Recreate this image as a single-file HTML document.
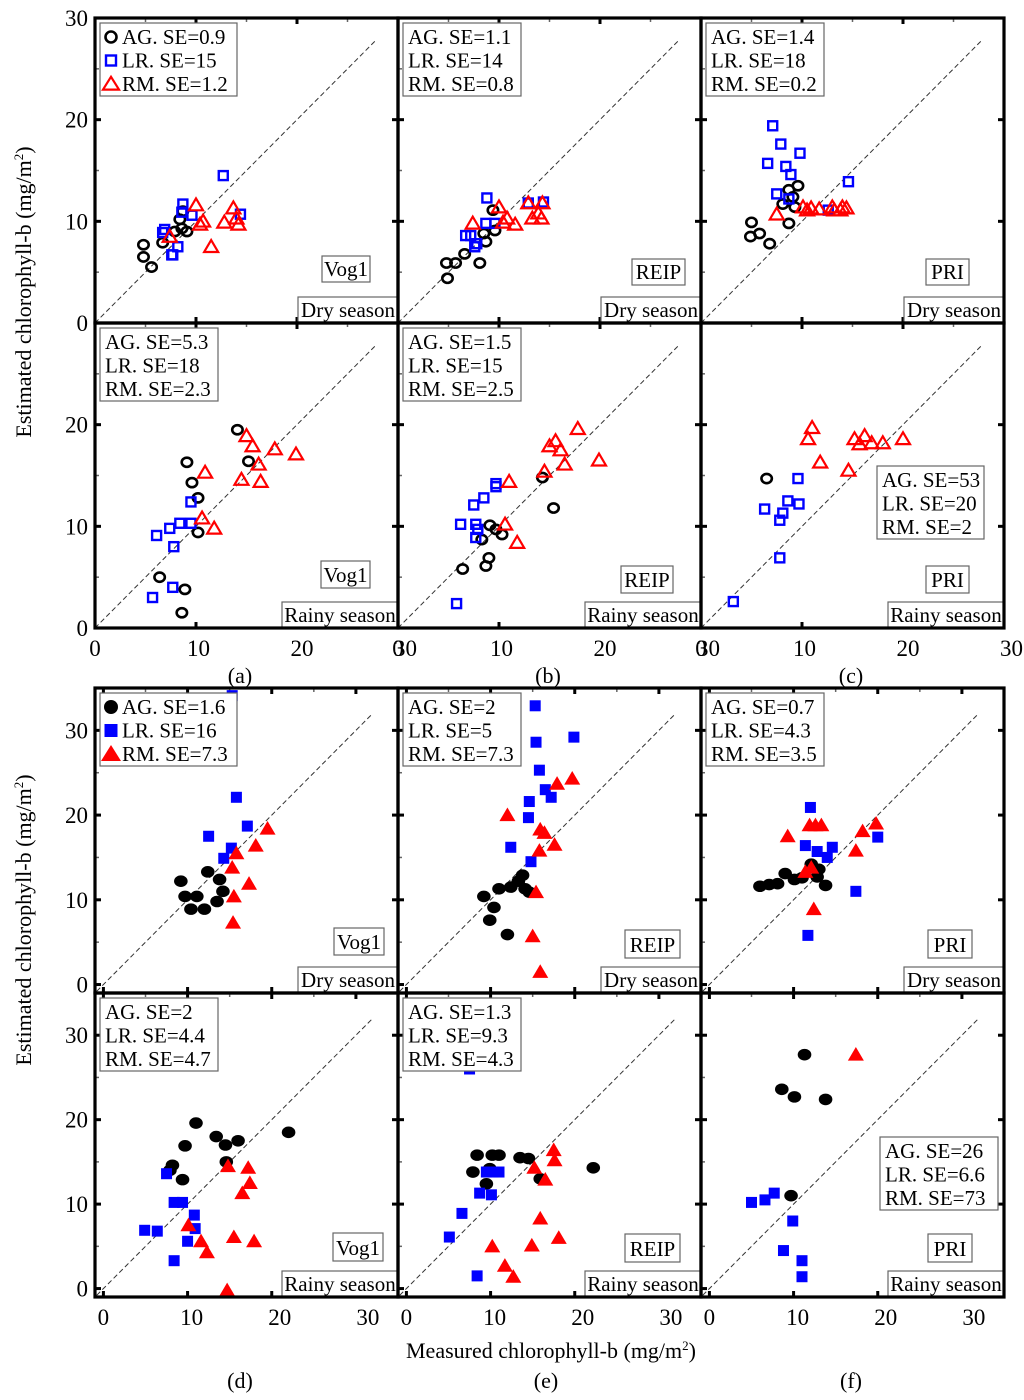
<!DOCTYPE html>
<html><head><meta charset="utf-8"><style>
html,body{margin:0;padding:0;background:#fff;}
svg{display:block;font-family:"Liberation Serif",serif;}
</style></head><body>
<svg id="chart" width="1024" height="1400" viewBox="0 0 1024 1400" xmlns="http://www.w3.org/2000/svg"></svg>
<script>
// ---- data (measured, estimated) ----
const aDryAG=[[4.8,7.7],[4.8,6.5],[5.6,5.5],[6.7,7.9],[7.9,9.0],[8.4,10.2],[8.7,11.0],[8.6,9.3],[9.1,9.0]];
const aDryLR=[[6.7,8.9],[6.9,9.2],[7.6,6.7],[7.7,6.7],[8.2,7.5],[8.7,11.7],[8.6,10.9],[9.6,10.6],[12.7,14.5],[14.4,10.7]];
const aDryRM=[[7.4,8.5],[10.0,11.6],[10.4,9.7],[10.7,10.0],[11.5,7.5],[12.8,9.9],[13.7,11.3],[14.0,10.3],[14.2,9.7]];
const bDryAG=[[4.9,4.4],[4.8,5.9],[5.7,5.9],[6.6,6.8],[8.1,5.9],[8.7,8.0],[8.5,8.8],[9.6,9.1],[9.4,11.1]];
const bDryLR=[[6.7,8.6],[7.2,8.6],[7.6,7.5],[8.7,9.8],[9.6,9.8],[8.8,12.3],[12.9,11.8],[14.4,11.9],[7.8,7.8]];
const bDryRM=[[7.4,9.8],[10.0,11.4],[10.8,10.3],[11.6,9.7],[10.4,9.9],[12.9,11.8],[14.3,11.8],[13.9,10.8],[13.3,10.3],[14.2,10.3]];
const cDryAG=[[5.0,9.9],[4.9,8.5],[5.8,8.8],[6.8,7.8],[8.7,9.8],[8.1,11.7],[9.3,11.4],[8.7,13.1],[9.6,13.5],[9.1,12.4]];
const cDryLR=[[7.1,19.4],[7.9,17.6],[9.8,16.7],[6.6,15.7],[8.4,15.4],[8.9,14.6],[7.5,12.7],[8.7,12.2],[14.6,13.9],[12.6,11.1]];
const cDryRM=[[7.5,10.7],[10.1,11.4],[10.9,11.3],[11.7,11.2],[10.5,11.1],[13.0,11.4],[14.0,11.4],[14.4,11.3],[13.2,11.1],[13.8,11.1]];
const aRainAG=[[14.1,19.5],[15.2,16.4],[9.1,16.3],[9.6,14.3],[10.2,12.8],[10.2,9.4],[6.4,5.0],[8.9,3.8],[8.6,1.5]];
const aRainLR=[[9.5,12.4],[8.4,10.3],[9.5,10.3],[7.4,9.8],[6.1,9.1],[7.8,8.0],[7.7,4.0],[5.7,3.0]];
const aRainRM=[[15.0,18.9],[15.6,17.9],[17.8,17.6],[19.9,17.1],[16.2,16.1],[10.9,15.3],[14.5,14.6],[16.4,14.4],[10.6,10.8],[11.8,9.8]];
const bRainAG=[[14.3,14.8],[15.4,11.8],[9.1,10.1],[9.7,9.7],[10.3,9.2],[8.3,8.7],[9.0,6.9],[8.7,6.1],[6.4,5.8]];
const bRainLR=[[9.7,14.2],[9.7,13.9],[8.5,12.8],[7.5,12.1],[6.2,10.2],[7.7,10.2],[7.9,9.7],[7.7,8.9],[5.8,2.4]];
const bRainRM=[[17.8,19.6],[15.6,18.4],[15.0,17.9],[16.1,17.5],[19.9,16.5],[16.5,16.1],[14.5,15.4],[11.0,14.4],[10.6,10.2],[11.8,8.4]];
const cRainAG=[[6.5,14.7]];
const cRainLR=[[9.6,14.7],[8.6,12.5],[9.7,12.2],[8.1,11.3],[7.8,10.6],[6.3,11.7],[7.8,6.9],[3.2,2.6]];
const cRainRM=[[11.0,19.7],[10.6,18.6],[11.8,16.3],[14.6,15.5],[15.2,18.6],[16.2,18.9],[15.7,18.1],[16.9,18.2],[18.0,18.2],[20.0,18.6]];
const dDryAG=[[9.2,12.2],[9.7,10.4],[11.1,10.4],[10.4,8.9],[12.0,8.9],[12.4,13.3],[13.8,12.4],[14.2,11.0],[13.5,9.8]];
const dDryLR=[[15.3,34.1],[15.8,22.1],[17.1,18.7],[12.5,17.5],[15.2,16.1],[14.3,14.9]];
const dDryRM=[[19.5,18.4],[18.1,16.4],[15.8,15.5],[15.3,13.8],[17.3,11.9],[15.5,10.4],[15.4,7.3]];
const eDryAG=[[9.2,10.4],[10.4,9.1],[9.9,7.6],[12.0,5.9],[11.0,11.3],[12.4,11.5],[13.3,12.2],[13.8,12.9],[14.1,11.3],[14.6,10.9]];
const eDryLR=[[15.3,32.9],[15.4,28.6],[19.9,29.2],[15.8,25.3],[14.6,21.6],[14.5,19.7],[16.5,23.0],[17.2,22.1],[12.4,16.2],[14.8,14.5]];
const eDryRM=[[12.0,20.0],[17.9,23.7],[19.7,24.3],[15.9,18.3],[16.4,17.9],[15.8,15.8],[17.6,16.5],[15.4,10.9],[15.0,5.7],[15.9,1.5]];
const fDryAG=[[6.0,11.6],[7.1,11.8],[8.1,11.9],[9.0,13.1],[10.1,12.4],[11.0,12.6],[12.8,12.7],[13.8,11.7],[13.0,13.6],[12.1,14.2]];
const fDryLR=[[12.0,20.9],[11.4,16.4],[12.8,15.7],[14.0,15.0],[14.6,16.2],[17.4,11.0],[20.0,17.4],[11.7,5.8]];
const fDryRM=[[9.3,17.5],[11.9,18.8],[12.6,18.8],[13.3,18.8],[17.4,15.8],[18.2,18.1],[19.8,19.0],[12.4,8.9],[11.4,13.3],[12.1,13.8]];
const dRainAG=[[11.0,19.6],[13.4,18.0],[14.5,17.0],[16.0,17.5],[14.6,15.0],[9.7,16.9],[8.2,14.6],[7.9,14.0],[9.4,12.9],[22.0,18.5]];
const dRainLR=[[7.5,13.6],[8.4,10.2],[9.4,10.2],[10.8,8.7],[10.9,7.1],[4.9,6.9],[6.4,6.8],[10.0,5.6],[8.4,3.3]];
const dRainRM=[[10.1,7.5],[11.6,5.6],[12.3,4.3],[14.8,14.5],[17.2,14.3],[17.4,12.5],[16.5,11.3],[15.5,6.1],[17.9,5.6],[14.7,-0.2]];
const eRainAG=[[8.4,15.8],[10.2,15.8],[11.0,15.8],[13.5,15.5],[14.5,15.4],[7.9,13.8],[9.5,12.4],[9.9,14.2],[15.9,13.0],[22.2,14.3]];
const eRainLR=[[7.5,26.0],[9.5,13.8],[10.3,13.8],[11.0,13.8],[8.7,11.3],[10.1,11.1],[6.6,8.9],[5.1,6.1],[8.4,1.5]];
const eRainRM=[[17.5,16.4],[17.6,15.2],[15.2,14.3],[16.5,12.9],[15.9,8.3],[18.1,6.0],[14.9,5.1],[10.2,5.0],[11.7,2.7],[12.7,1.4]];
const fRainAG=[[11.3,27.7],[8.6,23.6],[10.1,22.7],[13.8,22.4],[9.7,11.0]];
const fRainLR=[[5.0,10.2],[6.6,10.5],[7.7,11.3],[9.9,8.0],[8.8,4.5],[11.0,3.3],[11.0,1.4]];
const fRainRM=[[17.4,27.7]];
const topTicks=[0,10,20,30];
const topTickLabels=["0","10","20","30"];
const botTicks=[0,10,20,30];
const botTickLabels=["0","10","20","30"];
const seLabels={
 aDry:["AG. SE=0.9","LR. SE=15","RM. SE=1.2"], bDry:["AG. SE=1.1","LR. SE=14","RM. SE=0.8"], cDry:["AG. SE=1.4","LR. SE=18","RM. SE=0.2"],
 aRain:["AG. SE=5.3","LR. SE=18","RM. SE=2.3"], bRain:["AG. SE=1.5","LR. SE=15","RM. SE=2.5"], cRain:["AG. SE=53","LR. SE=20","RM. SE=2"],
 dDry:["AG. SE=1.6","LR. SE=16","RM. SE=7.3"], eDry:["AG. SE=2","LR. SE=5","RM. SE=7.3"], fDry:["AG. SE=0.7","LR. SE=4.3","RM. SE=3.5"],
 dRain:["AG. SE=2","LR. SE=4.4","RM. SE=4.7"], eRain:["AG. SE=1.3","LR. SE=9.3","RM. SE=4.3"], fRain:["AG. SE=26","LR. SE=6.6","RM. SE=73"]
};

const NS="http://www.w3.org/2000/svg";
const svg=document.getElementById('chart');
function mk(tag,attrs,parent,text){const e=document.createElementNS(NS,tag);for(const k in attrs)e.setAttribute(k,attrs[k]);if(text!==undefined)e.textContent=text;(parent||svg).appendChild(e);return e;}

const panels=[
 {id:'aDry',x:95,y:18,h:305,block:'top',ag:aDryAG,lr:aDryLR,rm:aDryRM,method:'Vog1',season:'Dry season',mbox:[322,256,48,26],leg:'tl',legMarkers:true},
 {id:'bDry',x:398,y:18,h:305,block:'top',ag:bDryAG,lr:bDryLR,rm:bDryRM,method:'REIP',season:'Dry season',mbox:[632,259,53,26],leg:'tl'},
 {id:'cDry',x:701,y:18,h:305,block:'top',ag:cDryAG,lr:cDryLR,rm:cDryRM,method:'PRI',season:'Dry season',mbox:[926,259,43,26],leg:'tl'},
 {id:'aRain',x:95,y:323,h:305,block:'top',ag:aRainAG,lr:aRainLR,rm:aRainRM,method:'Vog1',season:'Rainy season',mbox:[321,561,49,27],leg:'tl'},
 {id:'bRain',x:398,y:323,h:305,block:'top',ag:bRainAG,lr:bRainLR,rm:bRainRM,method:'REIP',season:'Rainy season',mbox:[621,566,52,27],leg:'tl'},
 {id:'cRain',x:701,y:323,h:305,block:'top',ag:cRainAG,lr:cRainLR,rm:cRainRM,method:'PRI',season:'Rainy season',mbox:[926,566,43,27],leg:[877,466]},
 {id:'dDry',x:95,y:688,h:305,block:'bot',ag:dDryAG,lr:dDryLR,rm:dDryRM,method:'Vog1',season:'Dry season',mbox:[334,928,50,27],leg:'tl',legMarkers:true},
 {id:'eDry',x:398,y:688,h:305,block:'bot',ag:eDryAG,lr:eDryLR,rm:eDryRM,method:'REIP',season:'Dry season',mbox:[625,930,55,28],leg:'tl'},
 {id:'fDry',x:701,y:688,h:305,block:'bot',ag:fDryAG,lr:fDryLR,rm:fDryRM,method:'PRI',season:'Dry season',mbox:[928,930,44,28],leg:'tl'},
 {id:'dRain',x:95,y:993,h:304,block:'bot',ag:dRainAG,lr:dRainLR,rm:dRainRM,method:'Vog1',season:'Rainy season',mbox:[333,1233,50,28],leg:'tl'},
 {id:'eRain',x:398,y:993,h:304,block:'bot',ag:eRainAG,lr:eRainLR,rm:eRainRM,method:'REIP',season:'Rainy season',mbox:[625,1234,55,28],leg:'tl'},
 {id:'fRain',x:701,y:993,h:304,block:'bot',ag:fRainAG,lr:fRainLR,rm:fRainRM,method:'PRI',season:'Rainy season',mbox:[928,1234,44,28],leg:[880,1137]}
];
const W=303;

panels.forEach(p=>{
  const top=p.block==='top';
  const xmin=top?0:-1, xmax=top?30:35, ymin=top?0:-1, ymax=top?30:35;
  const sx=v=>p.x+(v-xmin)/(xmax-xmin)*W;
  const sy=v=>p.y+p.h-(v-ymin)/(ymax-ymin)*p.h;
  const g=mk('g',{});
  
  
  const tk=top?topTicks:botTicks;
  const minor=[5,15,25];
  tk.forEach(v=>{
    mk('line',{x1:p.x,x2:p.x+6,y1:sy(v),y2:sy(v),stroke:'#000','stroke-width':3},g);
    mk('line',{x1:p.x+W,x2:p.x+W-6,y1:sy(v),y2:sy(v),stroke:'#000','stroke-width':3},g);
    mk('line',{x1:sx(v),x2:sx(v),y1:p.y,y2:p.y+6,stroke:'#000','stroke-width':3},g);
    mk('line',{x1:sx(v),x2:sx(v),y1:p.y+p.h,y2:p.y+p.h-6,stroke:'#000','stroke-width':3},g);
  });
  minor.forEach(v=>{
    mk('line',{x1:sx(v),x2:sx(v),y1:p.y,y2:p.y+4,stroke:'#666','stroke-width':1.5},g);
    mk('line',{x1:p.x,x2:p.x+4,y1:sy(v),y2:sy(v),stroke:'#666','stroke-width':1.5},g);
  });
  const d0=top?0:-0.8, d1=top?27.7:32;
  const dl=mk('line',{x1:sx(d0),y1:sy(d0),x2:sx(d1),y2:sy(d1),stroke:'#333','stroke-width':1,'stroke-dasharray':'5,3'},g);
  
  
  const filled=!top;
  p.ag.forEach(d=>{
    const e=mk('ellipse',{cx:sx(d[0]),cy:sy(d[1]),rx:filled?6.8:5.2,ry:filled?5.8:4.6,fill:filled?'#000':'none',stroke:'#000','stroke-width':filled?0:2.6},g);
    
    
  });
  p.lr.forEach(d=>{
    const s=filled?11:9;
    const e=mk('rect',{x:sx(d[0])-s/2,y:sy(d[1])-s/2,width:s,height:s,fill:filled?'#0000ff':'none',stroke:'#0000ff','stroke-width':filled?0:2.4},g);
    
    
  });
  p.rm.forEach(d=>{
    const cx=sx(d[0]),cy=sy(d[1]);const a=filled?8:7;
    const e=mk('polygon',{points:`${cx-a},${cy+a*0.75} ${cx+a},${cy+a*0.75} ${cx},${cy-a*0.95}`,fill:filled?'#ff0000':'none',stroke:'#ff0000','stroke-width':filled?0:2.2},g);
    
    
  });
  const lab=seLabels[p.id];
  let lx,ly,lw;
  if(p.leg==='tl'){lx=p.x+5;ly=p.y+5;}else{lx=p.leg[0];ly=p.leg[1];}
  lw=p.legMarkers?137:Math.max(...lab.map(s=>s.length))*11+8;
  const lg=mk('g',{},g);
  
  
  mk('rect',{x:lx,y:ly,width:lw,height:73,fill:'#fff',stroke:'#666','stroke-width':1.2},lg);
  lab.forEach((t,i)=>{
    const by=ly+21+i*23.5;
    let tx=lx+5;
    if(p.legMarkers){
      tx=lx+22;
      const mx=lx+11,my=by-7;
      if(i===0) mk('ellipse',{cx:mx,cy:my,rx:filled?7:5.5,ry:filled?7:5.5,fill:filled?'#000':'none',stroke:'#000','stroke-width':filled?0:2.6},lg);
      if(i===1){const s=filled?13:10;mk('rect',{x:mx-s/2,y:my-s/2,width:s,height:s,fill:filled?'#0000ff':'none',stroke:'#0000ff','stroke-width':filled?0:2.4},lg);}
      if(i===2){const a=filled?10:8;mk('polygon',{points:`${mx-a},${my+a*0.7} ${mx+a},${my+a*0.7} ${mx},${my-a*0.9}`,fill:filled?'#ff0000':'none',stroke:'#ff0000','stroke-width':filled?0:2.2},lg);}
    }
    const te=mk('text',{x:tx,y:by,'font-size':21,fill:'#000'},lg,t);
    
    
  });
  const mb=p.mbox;
  mk('rect',{x:mb[0],y:mb[1],width:mb[2],height:mb[3],fill:'#fff',stroke:'#666','stroke-width':1.2},g);
  const mt=mk('text',{x:mb[0]+mb[2]/2,y:mb[1]+mb[3]-6,'font-size':21,'text-anchor':'middle'},g,p.method);
  
  
  const sw=p.season==='Dry season'?100:116;
  mk('rect',{x:p.x+W-sw,y:p.y+p.h-26,width:sw,height:26,fill:'#fff',stroke:'#666','stroke-width':1.2},g);
  const st=mk('text',{x:p.x+W-sw/2,y:p.y+p.h-6,'font-size':21,'text-anchor':'middle'},g,p.season);
  
  
  mk('rect',{x:p.x,y:p.y,width:W,height:p.h,fill:'none',stroke:'#000','stroke-width':3.2},g);
  if(p.x===95){
    tk.forEach((v,i)=>{
      if(p.id==='aRain' && v===30) return;
      const t=mk('text',{x:88,y:sy(v)+8,'font-size':23,'text-anchor':'end'},svg,(top?topTickLabels:botTickLabels)[i]);
      
      
    });
  }
  if(p.id.indexOf('Rain')>0){
    tk.forEach((v,i)=>{
      let xx=top?sx(v)+v*0.25:sx(v)+v*0.4;
      const t=mk('text',{x:xx,y:top?656:1325,'font-size':23,'text-anchor':'middle'},svg,(top?topTickLabels:botTickLabels)[i]);
      
      
    });
  }
});

[['(a)',240,683],['(b)',548,683],['(c)',851,683],['(d)',240,1388],['(e)',546,1388],['(f)',851,1388]].forEach(l=>{
  const t=mk('text',{x:l[1],y:l[2],'font-size':22,'text-anchor':'middle'},svg,l[0]);
  
  
});
function ytitle(cy){
  const t=mk('text',{x:0,y:0,'font-size':22,'text-anchor':'middle',transform:`translate(31,${cy}) rotate(-90)`});
  
  
  t.appendChild(document.createTextNode('Estimated chlorophyll-b (mg/m'));
  const s=document.createElementNS(NS,'tspan');s.setAttribute('dy','-8');s.setAttribute('font-size','13');s.textContent='2';t.appendChild(s);
  const s2=document.createElementNS(NS,'tspan');s2.setAttribute('dy','8');s2.textContent=')';t.appendChild(s2);
}
ytitle(292);ytitle(920);
const xt=mk('text',{x:551,y:1358,'font-size':22,'text-anchor':'middle'});


xt.appendChild(document.createTextNode('Measured chlorophyll-b (mg/m'));
{const s=document.createElementNS(NS,'tspan');s.setAttribute('dy','-8');s.setAttribute('font-size','13');s.textContent='2';xt.appendChild(s);
const s2=document.createElementNS(NS,'tspan');s2.setAttribute('dy','8');s2.textContent=')';xt.appendChild(s2);}
</script>
</body></html>
